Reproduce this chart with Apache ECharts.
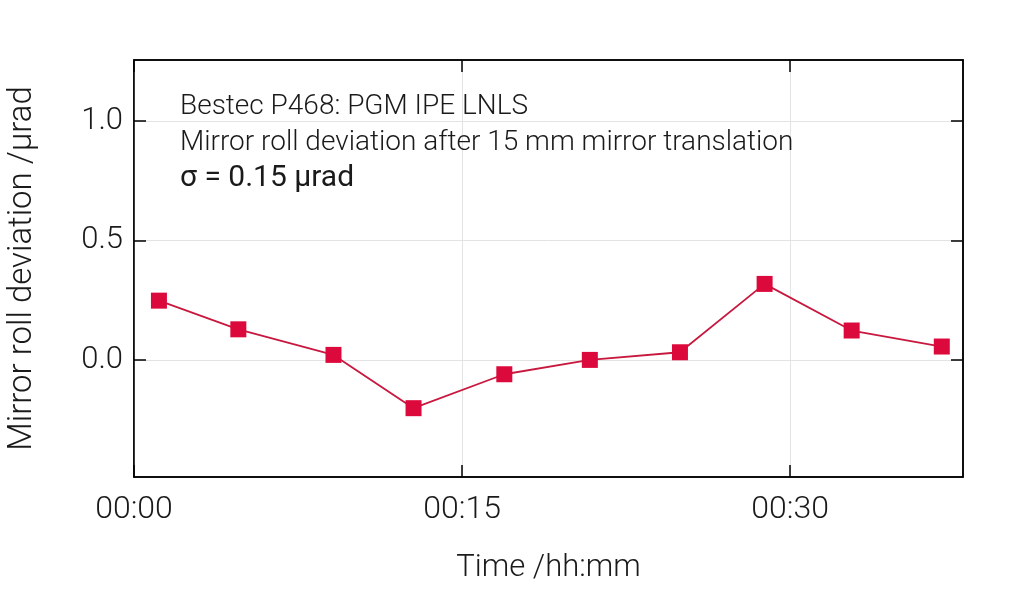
<!DOCTYPE html>
<html>
<head>
<meta charset="utf-8">
<script src="https://cdn.jsdelivr.net/npm/echarts@6/dist/echarts.min.js"></script>
<style>
html,body{margin:0;padding:0;background:#fff;}
#chart{width:1024px;height:589px;}
</style>
</head>
<body>
<div id="chart"></div>
<script>
// Time in minutes since 00:00
const timesMin = [1.14, 4.77, 9.12, 12.78, 16.93, 20.84, 24.96, 28.83, 32.81, 36.93];
// Mirror roll deviation / µrad
const rollDev = [0.248, 0.128, 0.021, -0.202, -0.060, 0.000, 0.032, 0.318, 0.123, 0.056];
const xTicks = [0, 15, 30];
const xTickLabels = ['00:00', '00:15', '00:30'];
const yTicks = [0, 0.5, 1.0];
const yTickLabels = ['0.0', '0.5', '1.0'];
const annotation = ['Bestec P468: PGM IPE LNLS', 'Mirror roll deviation after 15 mm mirror translation', 'σ = 0.15 µrad'];

const FONT = 'Roboto';
const TXT = '#1a1a1a';
const xMin = 0, xMax = 37.9, yMin = -0.49, yMax = 1.255;

const points = timesMin.map((t, i) => [t, rollDev[i]]);

function xFmt(v) { const i = xTicks.findIndex(t => Math.abs(t - v) < 1e-9); return i >= 0 ? xTickLabels[i] : ''; }
function yFmt(v) { const i = yTicks.findIndex(t => Math.abs(t - v) < 1e-9); return i >= 0 ? yTickLabels[i] : ''; }

const chart = echarts.init(document.getElementById('chart'), null, {renderer: 'canvas'});
const tickStyle = {show: true, inside: true, length: 12, lineStyle: {color: '#000', width: 1.5}};
const lineStyleAxis = {show: true, onZero: false, lineStyle: {color: '#000', width: 1.5}};
chart.setOption({
  backgroundColor: '#fff',
  animation: false,
  grid: {left: 134, right: 61, top: 60, bottom: 112, outerBoundsMode: 'none', containLabel: false,
         show: true, borderColor: '#000', borderWidth: 1.5, backgroundColor: 'transparent'},
  xAxis: [{
    type: 'value', min: xMin, max: xMax, position: 'bottom',
    name: 'Time /hh:mm', nameLocation: 'middle', nameGap: 76,
    nameTextStyle: {fontFamily: FONT, fontWeight: 300, fontSize: 31, color: TXT},
    axisLine: lineStyleAxis,
    axisTick: Object.assign({customValues: xTicks}, tickStyle),
    axisLabel: {customValues: xTicks, formatter: xFmt, fontFamily: FONT, fontWeight: 300, fontSize: 32, color: TXT, margin: 17},
    splitLine: {show: true, lineStyle: {color: '#e3e3e3', width: 1}}
  }, {
    type: 'value', min: xMin, max: xMax, position: 'top',
    axisLine: lineStyleAxis,
    axisTick: Object.assign({customValues: xTicks}, tickStyle),
    axisLabel: {show: false}, splitLine: {show: false}
  }],
  yAxis: [{
    type: 'value', min: yMin, max: yMax, position: 'left',
    name: 'Mirror roll deviation /µrad', nameLocation: 'middle', nameGap: 95,
    nameTextStyle: {fontFamily: FONT, fontWeight: 300, fontSize: 33, color: TXT},
    axisLine: lineStyleAxis,
    axisTick: Object.assign({customValues: yTicks}, tickStyle),
    axisLabel: {customValues: yTicks, formatter: yFmt, fontFamily: FONT, fontWeight: 300, fontSize: 31, color: TXT, margin: 11},
    splitLine: {show: true, lineStyle: {color: '#e3e3e3', width: 1}}
  }, {
    type: 'value', min: yMin, max: yMax, position: 'right',
    axisLine: lineStyleAxis,
    axisTick: Object.assign({customValues: yTicks}, tickStyle),
    axisLabel: {show: false}, splitLine: {show: false}
  }],
  graphic: [
    {type: 'text', left: 180, top: 93, z: 100, style: {text: annotation[0], fontFamily: FONT, fontWeight: 300, fontSize: 28, fill: TXT}},
    {type: 'text', left: 180, top: 129, z: 100, style: {text: annotation[1], fontFamily: FONT, fontWeight: 300, fontSize: 28, fill: TXT}},
    {type: 'text', left: 180, top: 163, z: 100, style: {text: annotation[2], fontFamily: FONT, fontWeight: 400, fontSize: 30, fill: TXT}}
  ],
  series: [{
    type: 'line', data: points, xAxisIndex: 0, yAxisIndex: 0,
    symbol: 'rect', symbolSize: 16,
    itemStyle: {color: '#dc0a3c'},
    lineStyle: {color: '#c8183f', width: 1.8},
    z: 5
  }]
});
</script>
</body>
</html>
